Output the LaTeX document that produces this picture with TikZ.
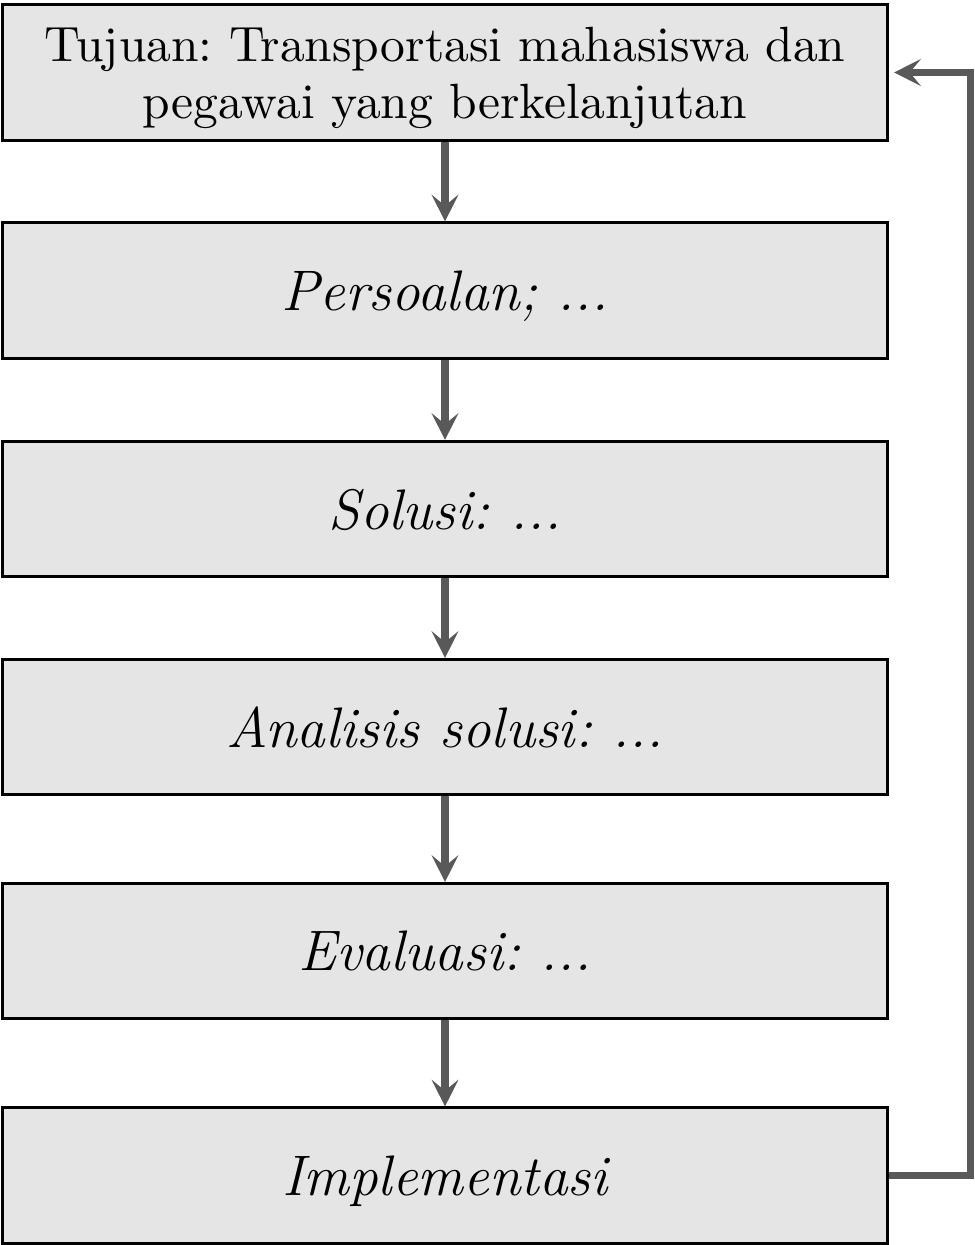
\documentclass[tikz,border=0pt]{standalone}
\usepackage{tikz}
\usetikzlibrary{arrows.meta}
\usepackage{xcolor}
\frenchspacing

\tikzset{
    stepbox/.style={rectangle,draw,semithick,fill=black!10,text depth=0pt,
        minimum width=186pt,minimum height=28.4pt,align=center,inner sep=2pt},
    arr/.style={-{Stealth[length=5.6pt,width=5.6pt,inset=2.3pt]},
        line width=1.5pt,draw=black!65}
}

\begin{document}
\begin{tikzpicture}[x=0.21pt,y=-0.21pt]
    \useasboundingbox (0,0) rectangle (975,1245);
    \node[stepbox,font=\fontsize{10.4}{12}\selectfont] (1) at (445,72.5)
        {Tujuan: Transportasi mahasiswa dan\\pegawai yang berkelanjutan};
    \foreach \n/\y/\txt in {2/290.5/{Persoalan; ...}, 3/509/{Solusi: ...},
        4/727/{Analisis solusi: ...}, 5/951/{Evaluasi: ...},
        6/1175.5/{Implementasi}}
        \node[stepbox,font=\large\itshape] (\n) at (445,\y) {\txt};
    \foreach \n [count=\next from 2] in {1, 2, ..., 5}
        \draw[arr] (\n) -- (\next);
    % feedback from the last step back to the goal
    \draw[arr] (6.east) -- ++(81,0) |- ([xshift=1pt]1.east);
\end{tikzpicture}
\end{document}
